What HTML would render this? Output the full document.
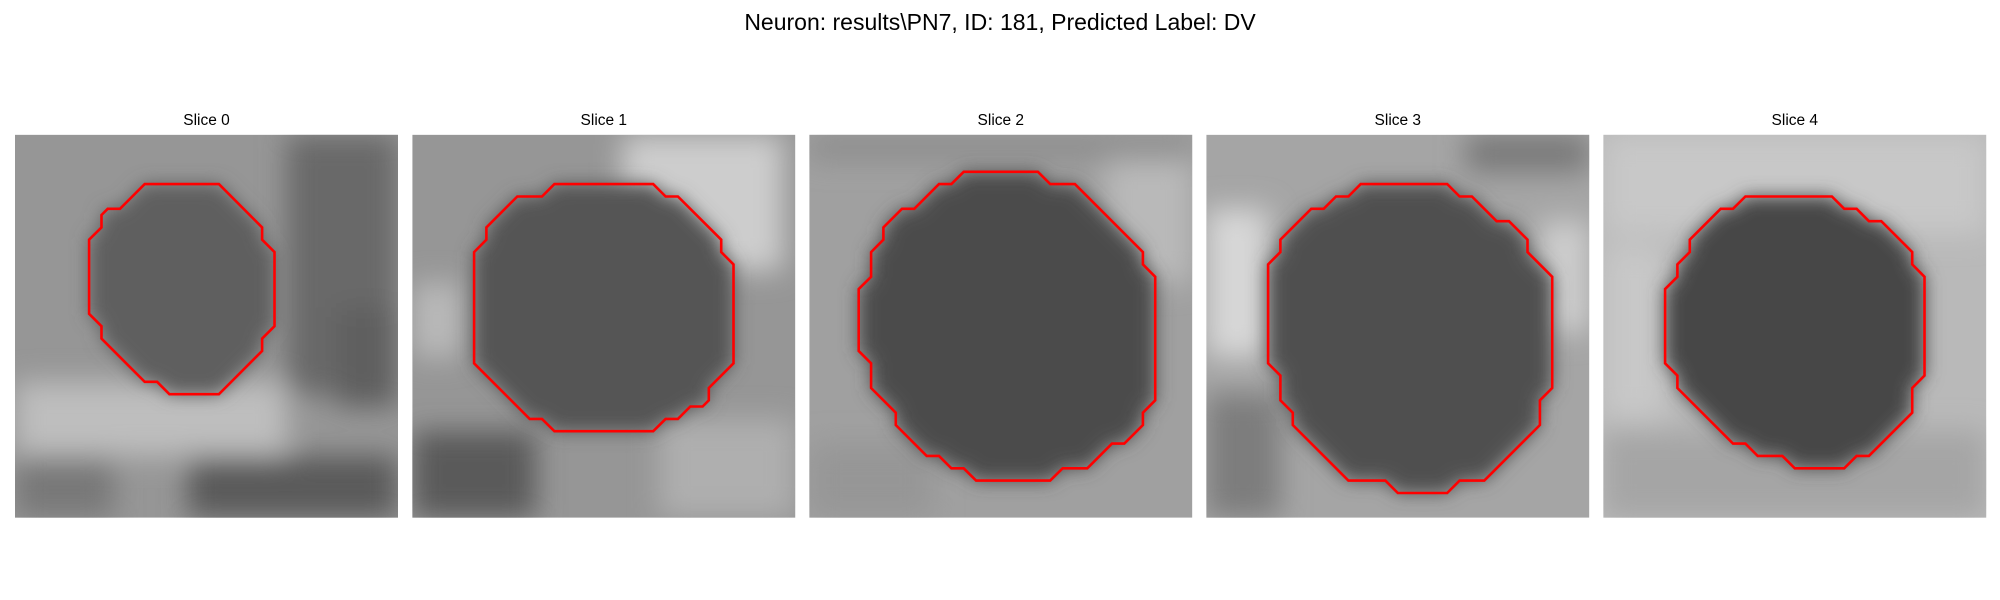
<!DOCTYPE html>
<html><head><meta charset="utf-8">
<style>
html,body{margin:0;padding:0;background:#fff;}
svg{display:block;font-family:"Liberation Sans","DejaVu Sans",sans-serif;}
</style></head>
<body>
<svg id="fig" width="2000" height="600" viewBox="0 0 2000 600">
<defs>
<filter id="soft" x="-20%" y="-20%" width="140%" height="140%"><feGaussianBlur stdDeviation="9"/></filter>
<filter id="soft2" x="-30%" y="-30%" width="160%" height="160%"><feGaussianBlur stdDeviation="14"/></filter>
</defs>
<text x="1000" y="30" text-anchor="middle" font-size="23" fill="#000">Neuron: results\PN7, ID: 181, Predicted Label: DV</text>
</svg>
<script>
const gridCells = 31;
const sliceTitles = ["Slice 0","Slice 1","Slice 2","Slice 3","Slice 4"];
const outsideGray = [150, 150, 160, 165, 185];
const insideGray = [95, 85, 75, 80, 70];
// Broad background features: [panel, col, row, width, height, gray]
const patches = [
  [0,22,0,9,21,105],[0,0,20,22,6,190],[0,14,26,17,5,90],[0,0,26,8,5,120],[0,26,14,5,8,95],
  [1,17,0,13,11,205],[1,0,24,10,7,90],[1,20,23,11,8,175],[1,0,12,4,6,185],
  [2,0,0,31,2,140],[2,0,25,10,6,150],[2,24,2,7,10,185],
  [3,0,6,5,12,215],[3,21,0,10,3,120],[3,0,21,6,10,125],[3,27,7,4,9,205],
  [4,0,0,31,8,200],[4,0,24,31,7,165],[4,0,9,5,14,200]
];
const contour0 = [[10.5,4],[16.5,4],[20,7.5],[20,8.5],[21,9.5],[21,15.5],[20,16.5],[20,17.5],[16.5,21],[12.5,21],[11.5,20],[10.5,20],[7,16.5],[7,15.5],[6,14.5],[6,8.5],[7,7.5],[7,6.5],[7.5,6],[8.5,6]];
const contour1 = [[11.5,4],[19.5,4],[20.5,5],[21.5,5],[25,8.5],[25,9.5],[26,10.5],[26,18.5],[24,20.5],[24,21.5],[23.5,22],[22.5,22],[21.5,23],[20.5,23],[19.5,24],[11.5,24],[10.5,23],[9.5,23],[5,18.5],[5,9.5],[6,8.5],[6,7.5],[8.5,5],[10.5,5]];
const contour2 = [[12.5,3],[18.5,3],[19.5,4],[21.5,4],[27,9.5],[27,10.5],[28,11.5],[28,21.5],[27,22.5],[27,23.5],[25.5,25],[24.5,25],[22.5,27],[20.5,27],[19.5,28],[13.5,28],[12.5,27],[11.5,27],[10.5,26],[9.5,26],[7,23.5],[7,22.5],[5,20.5],[5,18.5],[4,17.5],[4,12.5],[5,11.5],[5,9.5],[6,8.5],[6,7.5],[7.5,6],[8.5,6],[10.5,4],[11.5,4]];
const contour3 = [[12.5,4],[19.5,4],[20.5,5],[21.5,5],[23.5,7],[24.5,7],[26,8.5],[26,9.5],[28,11.5],[28,20.5],[27,21.5],[27,23.5],[22.5,28],[20.5,28],[19.5,29],[15.5,29],[14.5,28],[11.5,28],[7,23.5],[7,22.5],[6,21.5],[6,19.5],[5,18.5],[5,10.5],[6,9.5],[6,8.5],[8.5,6],[9.5,6],[10.5,5],[11.5,5]];
const contour4 = [[11.5,5],[18.5,5],[19.5,6],[20.5,6],[21.5,7],[22.5,7],[25,9.5],[25,10.5],[26,11.5],[26,19.5],[25,20.5],[25,22.5],[21.5,26],[20.5,26],[19.5,27],[15.5,27],[14.5,26],[12.5,26],[11.5,25],[10.5,25],[6,20.5],[6,19.5],[5,18.5],[5,12.5],[6,11.5],[6,10.5],[7,9.5],[7,8.5],[9.5,6],[10.5,6]];
const contours = [contour0, contour1, contour2, contour3, contour4];

const panelLeft = [15, 412.3, 809.3, 1206.3, 1603.3];
const panelTop = 134.7, panelSize = 383;
const NS = "http://www.w3.org/2000/svg";
const svg = document.getElementById('fig');
function gray(v){return `rgb(${v},${v},${v})`;}
function sx(i,c){return panelLeft[i] + c*panelSize/gridCells;}
function sy(r){return panelTop + r*panelSize/gridCells;}
const cs = panelSize/gridCells;

sliceTitles.forEach((t,i)=>{
  const g = document.createElementNS(NS,'g');
  
  
  const cp = document.createElementNS(NS,'clipPath');
  cp.setAttribute('id','clip'+i);
  const cr = document.createElementNS(NS,'rect');
  cr.setAttribute('x',panelLeft[i]); cr.setAttribute('y',panelTop);
  cr.setAttribute('width',panelSize); cr.setAttribute('height',panelSize);
  cp.appendChild(cr); g.appendChild(cp);
  const img = document.createElementNS(NS,'g');
  img.setAttribute('clip-path','url(#clip'+i+')');
  
  
  const bg = document.createElementNS(NS,'rect');
  bg.setAttribute('x',panelLeft[i]); bg.setAttribute('y',panelTop);
  bg.setAttribute('width',panelSize); bg.setAttribute('height',panelSize);
  bg.setAttribute('fill',gray(outsideGray[i]));
  
  
  img.appendChild(bg);
  const pg = document.createElementNS(NS,'g');
  pg.setAttribute('filter','url(#soft2)');
  
  
  patches.filter(p=>p[0]===i).forEach(p=>{
    const r = document.createElementNS(NS,'rect');
    r.setAttribute('x',sx(i,p[1])); r.setAttribute('y',sy(p[2]));
    r.setAttribute('width',p[3]*cs); r.setAttribute('height',p[4]*cs);
    r.setAttribute('fill',gray(p[5]));
    
    
    pg.appendChild(r);
  });
  img.appendChild(pg);
  const pts = contours[i].map(p=>sx(i,p[0]).toFixed(1)+','+sy(p[1]).toFixed(1)).join(' ');
  const dark = document.createElementNS(NS,'polygon');
  dark.setAttribute('points',pts);
  dark.setAttribute('fill',gray(insideGray[i]));
  dark.setAttribute('filter','url(#soft)');
  
  
  img.appendChild(dark);
  g.appendChild(img);
  const line = document.createElementNS(NS,'polygon');
  line.setAttribute('points',pts);
  line.setAttribute('fill','none');
  line.setAttribute('stroke','#ff0000');
  line.setAttribute('stroke-width','2.6');
  
  
  g.appendChild(line);
  const tt = document.createElementNS(NS,'text');
  tt.setAttribute('x',panelLeft[i]+panelSize/2);
  tt.setAttribute('y',125);
  tt.setAttribute('text-anchor','middle');
  tt.setAttribute('font-size','15.5');
  tt.textContent = t;
  
  
  g.appendChild(tt);
  svg.appendChild(g);
});
</script>
</body></html>
